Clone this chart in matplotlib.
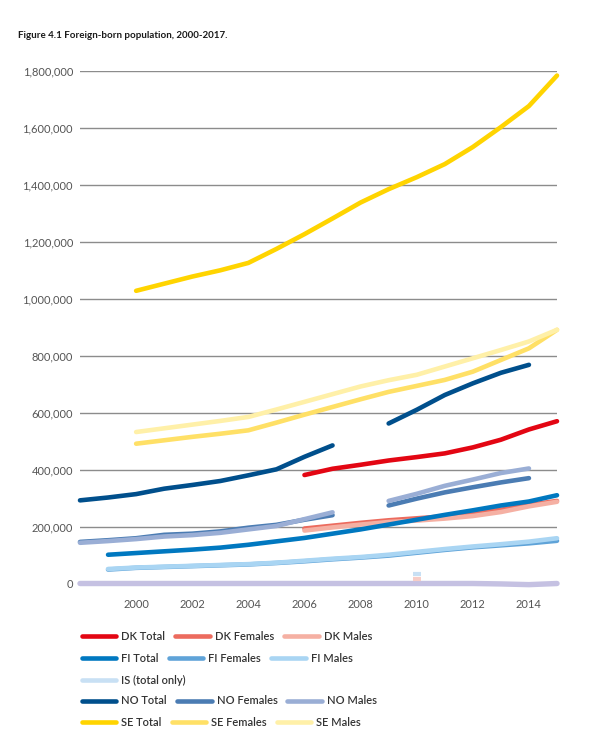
import numpy as np
import matplotlib
matplotlib.use('Agg')
import matplotlib.pyplot as plt
from matplotlib.lines import Line2D
from matplotlib.ticker import FuncFormatter

plt.rcParams['font.family'] = ['Lato', 'DejaVu Sans']

nan = np.nan
years = [1998, 1999, 2000, 2001, 2002, 2003, 2004, 2005, 2006,
         2007, 2008, 2009, 2010, 2011, 2012, 2013, 2014, 2015]

dk_total = [nan, nan, nan, nan, nan, nan, nan, nan, 381000,
            403000, 417000, 432000, 444000, 457000, 478000, 505000, 541000, 570000]
dk_females = [nan, nan, nan, nan, nan, nan, nan, nan, 193000,
              203000, 213000, 222000, 229000, 236000, 246000, 259000, 276000, 290000]
dk_males = [nan, nan, nan, nan, nan, nan, nan, nan, 186000,
            197000, 207000, 216000, 221000, 228000, 237000, 251000, 271000, 287000]
fi_total = [nan, 101000, 107000, 113000, 119000, 126000, 136000, 148000, 160000,
            175000, 190000, 207000, 224000, 241000, 257000, 274000, 288000, 310000]
fi_females = [nan, 49000, 55000, 58000, 61000, 64000, 67000, 72000, 78000,
              85000, 91000, 98000, 108000, 118000, 127000, 134000, 141000, 150000]
fi_males = [nan, 51000, 56000, 59000, 62000, 65000, 68000, 73000, 80000,
            87000, 93000, 101000, 111000, 121000, 130000, 138000, 147000, 159000]
is_total = [nan, nan, nan, nan, nan, nan, nan, nan, nan,
            nan, nan, nan, 33000, nan, nan, nan, nan, nan]
pink_dash = [nan, nan, nan, nan, nan, nan, nan, nan, nan,
             nan, nan, nan, 16000, nan, nan, nan, nan, nan]
zero_line = [0, 0, 0, 0, 0, 0, 0, 0, 0,
             0, 0, 0, 0, 0, 0, -1500, -4000, 0]
no_total = [292000, 302000, 314000, 333000, 346000, 360000, 380000, 401000, 445000,
            485000, nan, 562000, 610000, 662000, 703000, 740000, 768000, nan]
no_females = [146000, 152000, 159000, 171000, 175000, 183000, 196000, 206000, 224000,
              240000, nan, 274000, 298000, 320000, 338000, 355000, 370000, nan]
no_males = [143000, 149000, 156000, 165000, 170000, 178000, 190000, 202000, 226000,
            250000, nan, 290000, 315000, 343000, 365000, 388000, 404000, nan]
se_total = [nan, nan, 1028000, 1053000, 1078000, 1100000, 1126000, 1175000, 1227000,
            1282000, 1338000, 1385000, 1427000, 1473000, 1533000, 1603000, 1677000, 1784000]
se_females = [nan, nan, 491000, 503000, 515000, 526000, 538000, 565000, 593000,
              620000, 647000, 673000, 694000, 715000, 744000, 785000, 826000, 891000]
se_males = [nan, nan, 532000, 545000, 558000, 571000, 585000, 611000, 638000,
            665000, 692000, 714000, 733000, 762000, 791000, 820000, 850000, 891000]

labels = ['DK Total', 'DK Females', 'DK Males',
          'FI Total', 'FI Females', 'FI Males',
          'IS (total only)',
          'NO Total', 'NO Females', 'NO Males',
          'SE Total', 'SE Females', 'SE Males']
values = [dk_total, dk_females, dk_males, fi_total, fi_females, fi_males,
          is_total, no_total, no_females, no_males, se_total, se_females, se_males]
colors = ['#e30613', '#ec6b5e', '#f5b0a3',
          '#0078c0', '#5fa3d8', '#a9d5f3',
          '#c8e0f4',
          '#004f8c', '#4b7cb3', '#9aaed5',
          '#ffd400', '#ffe066', '#fff0a8']

W, H = 609, 731
fig = plt.figure(figsize=(W / 100, H / 100), dpi=100)
ax = fig.add_axes([80 / W, 1 - 583.5 / H, 477 / W, (583.5 - 71) / H])
ax.set_xlim(1998, 2015)
ax.set_ylim(0, 1800000)
ax.set_yticks(range(0, 1800001, 200000))
ax.yaxis.set_major_formatter(FuncFormatter(lambda v, p: f"{int(v):,}"))
ax.set_xticks(range(2000, 2015, 2))
ax.tick_params(length=0, labelsize=8, labelcolor='#555555')
ax.tick_params(axis='y', pad=5)
ax.tick_params(axis='x', pad=11)
for s in ax.spines.values():
    s.set_visible(False)
ax.grid(axis='y', color='#8c8c8c', lw=1.0)
ax.grid(axis='x', visible=False)
ax.set_axisbelow(True)

lw = 3.3
ax.plot(years, zero_line, color='#c5c1e2', lw=lw + 0.6, solid_capstyle='round',
        clip_on=False, zorder=2)
handles = []
for lab, vals, col in zip(labels, values, colors):
    if lab.startswith('IS'):
        ax.plot(years, vals, color=col, lw=0, marker='_', ms=6, mew=3,
                clip_on=False, zorder=3)
        ax.plot(years, pink_dash, color='#f7cdc7', lw=0, marker='_', ms=6, mew=3,
                clip_on=False, zorder=3)
    else:
        ax.plot(years, vals, color=col, lw=lw, solid_capstyle='round',
                clip_on=False, zorder=3)
    handles.append(Line2D([0], [0], color=col, lw=lw, solid_capstyle='round'))

fig.text(18 / W, 1 - 35 / H, 'Figure 4.1 Foreign-born population, 2000-2017.',
         fontsize=7, fontweight='bold', color='#1a1a1a', va='center', ha='left')

rows = [[0, 1, 2], [3, 4, 5], [6], [7, 8, 9], [10, 11, 12]]
row_y = [636, 658, 680, 701, 722]
for idx, yy in zip(rows, row_y):
    leg = fig.legend([handles[i] for i in idx], [labels[i] for i in idx],
                     loc='center left', bbox_to_anchor=(82 / W, 1 - yy / H),
                     ncol=len(idx), frameon=False,
                     prop={'size': 8, 'weight': 'semibold'},
                     borderpad=0, borderaxespad=0, handlelength=3.1,
                     handletextpad=0.45, columnspacing=0.9, labelcolor='#333333')

fig.savefig('out.png', dpi=100)
